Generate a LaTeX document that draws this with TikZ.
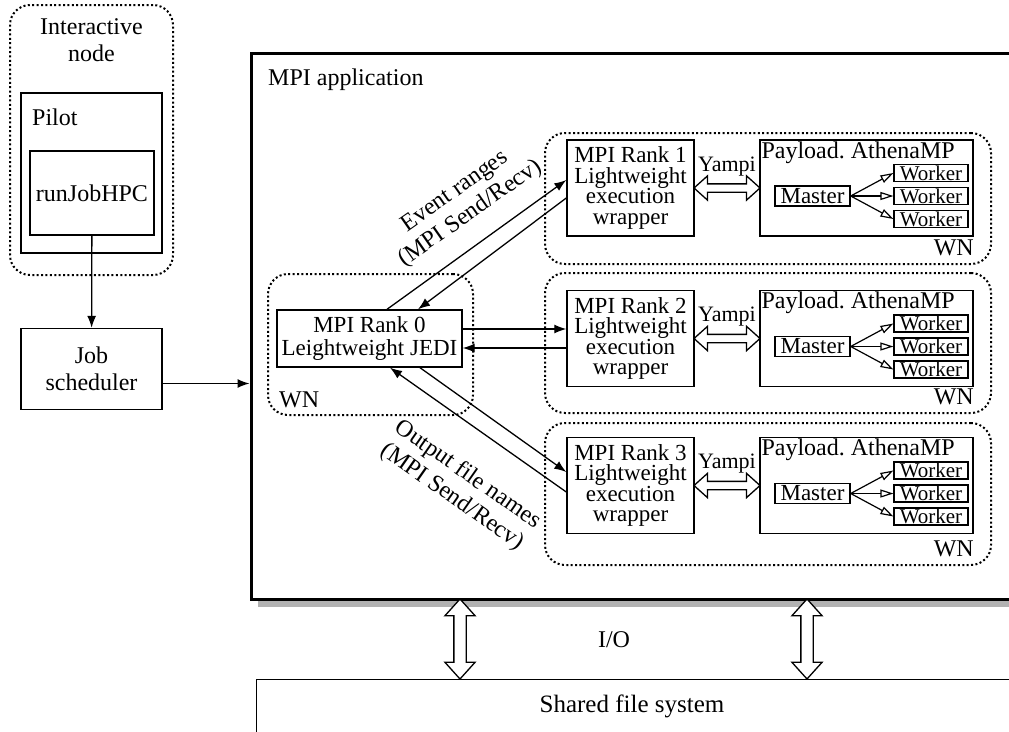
\documentclass[tikz,border=0pt]{standalone}
\usepackage{fontspec}
\setmainfont{Liberation Serif}
\usetikzlibrary{arrows.meta,positioning,calc,shapes.arrows,shadows}
\tikzset{
  box/.style      = {draw, line width=1.4pt, align=center, inner sep=0pt},
  wnbox/.style    = {draw, line width=2pt, dash pattern=on 2pt off 2.4pt,
                     rounded corners=20pt, inner sep=0pt},
  rank/.style     = {box, minimum width=127pt, minimum height=96pt,
                     font=\fontsize{23}{20.5}\selectfont},
  payload/.style  = {box, minimum width=213pt, minimum height=96pt},
  master/.style   = {box, minimum width=75pt, minimum height=20pt,
                     font=\fontsize{23}{23}\selectfont},
  worker/.style   = {draw, line width=1.2pt, minimum width=74pt, minimum height=17pt,
                     inner sep=0pt, font=\fontsize{21}{22}\selectfont},
  sig/.style      = {-{Latex[length=12pt,width=9pt]}, line width=1.3pt},
  spawn/.style    = {-{Triangle[open,length=13pt,width=8pt]}, line width=1.2pt},
  yampiarr/.style = {double arrow, draw, fill=white, line width=1.3pt, inner xsep=0pt,
                     inner ysep=3.5pt, double arrow head extend=8pt,
                     double arrow tip angle=84, minimum width=23pt, minimum height=66pt},
  ioarr/.style    = {yampiarr, inner ysep=5.5pt, double arrow head extend=9pt,
                     minimum width=29pt, minimum height=80pt, rotate=90},
  small/.style    = {inner sep=0pt, font=\fontsize{22}{22}\selectfont},
}
\begin{document}
\begin{tikzpicture}[x=1pt,y=-1pt,font=\fontsize{24}{27}\selectfont]
\clip (0,0) rectangle (1009,731);
% interactive node
\node[wnbox, minimum width=163pt, minimum height=270pt] (inter) at (91.5,140) {};
\node[align=center, inner sep=0pt] (interlbl) at (91.5,40) {Interactive\\node};
\node[box, minimum width=141pt, minimum height=160pt] (pilot) at (91.5,173) {};
\node[anchor=west, inner sep=0pt] (pilotlbl) at (32,117) {Pilot};
\node[box, minimum width=124pt, minimum height=84pt] (rjh) at (92,193) {runJobHPC};
\node[box, minimum width=141pt, minimum height=81pt] (job) at (91.5,369) {Job\\scheduler};
\draw[sig] (rjh) -- (job);

% MPI application
\node[draw, fill=white, line width=3pt, minimum width=800pt, minimum height=546pt,
      drop shadow={shadow xshift=7pt, shadow yshift=-8pt, fill=black!30, opacity=1}]
      (mpiapp) at (651,326) {};
\node[anchor=west, inner sep=0pt] (mpilbl) at (268,80) {MPI application};
\coordinate (jobout) at ([yshift=-14.5pt]job.east);
\draw[sig] (jobout) -- (jobout -| mpiapp.west);

% rank 0
\node[wnbox, minimum width=205pt, minimum height=141pt] (wn0) at (370.5,344.5) {};
\node[box, minimum width=185pt, minimum height=57pt, font=\fontsize{23}{23}\selectfont]
      (rk0) at (369.5,338.5) {MPI Rank 0\\Leightweight JEDI};
\node[anchor=south west, inner sep=0pt] at ([xshift=12pt,yshift=8pt]wn0.south west) {WN};

% worker node 1
\node[wnbox, minimum width=446pt, minimum height=131pt] (wn1) at (768,198.5) {};
\node[rank] (rk1) at (630.5,188) {MPI Rank 1\\Lightweight\\execution\\wrapper};
\node[payload] (pay1) at (866.5,188) {};
\node[anchor=north west, inner sep=2pt] at (pay1.north west) {Payload.\ AthenaMP};
\node[master] (ms1) at (812.5,196) {Master};
\node[worker] (wk1a) at (931,173) {Worker};
\node[worker] (wk1b) at (931,196) {Worker};
\node[worker] (wk1c) at (931,219) {Worker};
\draw[spawn] (ms1.east) -- (wk1a.west);
\draw[spawn] (ms1.east) -- (wk1b.west);
\draw[spawn] (ms1.east) -- (wk1c.west);
\node[yampiarr] (ya1) at ($(rk1.east)!0.5!(pay1.west)$) {};
\node[small, above=7pt of ya1] {Yampi};
\node[anchor=south east, inner sep=0pt] at ([xshift=-18pt,yshift=9pt]wn1.south east) {WN};

% worker node 2
\node[wnbox, minimum width=446pt, minimum height=140pt] (wn2) at (768,343) {};
\node[rank] (rk2) at (630.5,338.5) {MPI Rank 2\\Lightweight\\execution\\wrapper};
\node[payload] (pay2) at (866.5,338.5) {};
\node[anchor=north west, inner sep=2pt] at (pay2.north west) {Payload.\ AthenaMP};
\node[master] (ms2) at (812.5,346.5) {Master};
\node[worker] (wk2a) at (931,323.5) {Worker};
\node[worker] (wk2b) at (931,346.5) {Worker};
\node[worker] (wk2c) at (931,369.5) {Worker};
\draw[spawn] (ms2.east) -- (wk2a.west);
\draw[spawn] (ms2.east) -- (wk2b.west);
\draw[spawn] (ms2.east) -- (wk2c.west);
\node[yampiarr] (ya2) at ($(rk2.east)!0.5!(pay2.west)$) {};
\node[small, above=7pt of ya2] {Yampi};
\node[anchor=south east, inner sep=0pt] at ([xshift=-18pt,yshift=9pt]wn2.south east) {WN};

% worker node 3
\node[wnbox, minimum width=446pt, minimum height=142pt] (wn3) at (768,494) {};
\node[rank] (rk3) at (630.5,485.5) {MPI Rank 3\\Lightweight\\execution\\wrapper};
\node[payload] (pay3) at (866.5,485.5) {};
\node[anchor=north west, inner sep=2pt] at (pay3.north west) {Payload.\ AthenaMP};
\node[master] (ms3) at (812.5,493.5) {Master};
\node[worker] (wk3a) at (931,470.5) {Worker};
\node[worker] (wk3b) at (931,493.5) {Worker};
\node[worker] (wk3c) at (931,516.5) {Worker};
\draw[spawn] (ms3.east) -- (wk3a.west);
\draw[spawn] (ms3.east) -- (wk3b.west);
\draw[spawn] (ms3.east) -- (wk3c.west);
\node[yampiarr] (ya3) at ($(rk3.east)!0.5!(pay3.west)$) {};
\node[small, above=7pt of ya3] {Yampi};
\node[anchor=south east, inner sep=0pt] at ([xshift=-18pt,yshift=9pt]wn3.south east) {WN};

% messages between ranks
\draw[sig] ([xshift=17.5pt]rk0.north) -- ([yshift=8pt]rk1.west);
\draw[sig] ([yshift=-10pt]rk1.west) -- ([xshift=48.5pt]rk0.north);
\draw[sig] ([yshift=9.5pt]rk0.east) -- ([yshift=9.5pt]rk2.west);
\draw[sig] ([yshift=-9.5pt]rk2.west) -- ([yshift=-9.5pt]rk0.east);
\draw[sig] ([xshift=50.5pt]rk0.south) -- ([yshift=13.5pt]rk3.west);
\draw[sig] ([yshift=-6.5pt]rk3.west) -- ([xshift=20.5pt]rk0.south);
\node[rotate=35, align=center, inner sep=0pt] (evlbl) at (463,203) {Event ranges\\(MPI Send/Recv)};
\node[rotate=-35, align=center, inner sep=0pt] (outlbl) at (460,486) {Output file names\\(MPI Send/Recv)};

% shared file system
\node[draw, line width=1.2pt, minimum width=800pt, minimum height=100pt, anchor=north west]
      (sfs) at (256,679) {};
\node[font=\fontsize{25}{27}\selectfont] (sfslbl) at (632,706) {Shared file system};
\node[ioarr] (io1) at (460,639) {};
\node[ioarr] (io2) at (807,639) {};
\node (iolbl) at (614,640) {I/O};
\end{tikzpicture}
\end{document}
